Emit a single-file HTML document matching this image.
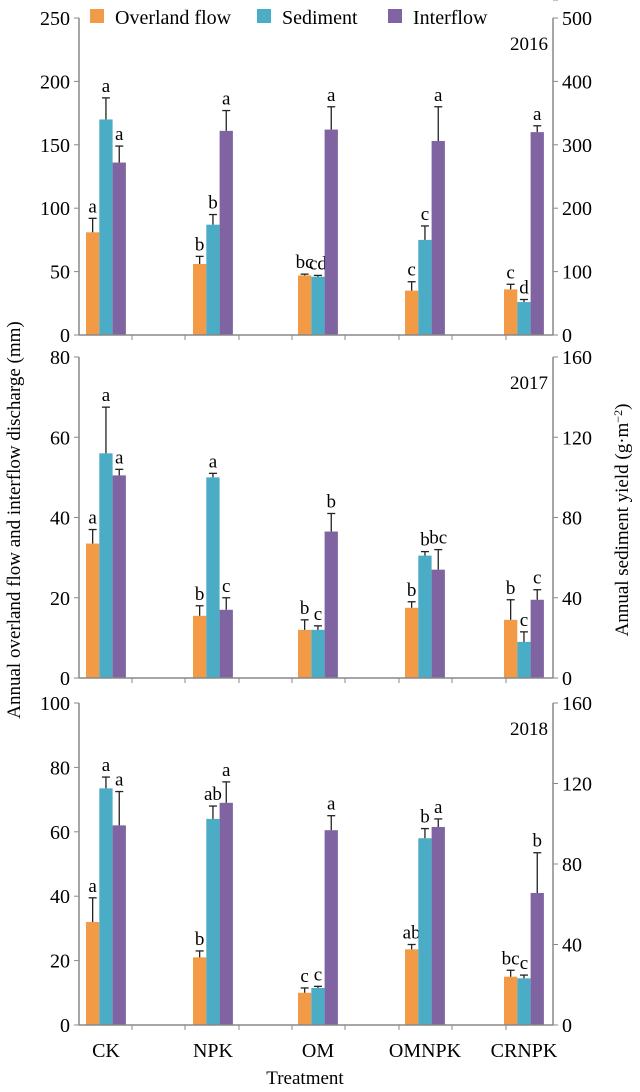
<!DOCTYPE html><html><head><style>body{margin:0;background:#fff}svg{display:block}svg text{font-family:"Liberation Serif","Times New Roman","DejaVu Serif",serif !important}</style></head><body>
<svg id="s" width="640" height="1092" xmlns="http://www.w3.org/2000/svg"></svg>
<script>
const s=document.getElementById('s');let h='';
const F='style="font-family:&quot;Liberation Serif&quot;,&quot;Times New Roman&quot;,&quot;DejaVu Serif&quot;,serif"';
const L=79,R=553,C=['#f39a47','#4bacc6','#8064a2'];
const starts=[86,193,298,405,504],bw=13.3;
const P=[
{top:18,bot:335,max:250,lt:[0,50,100,150,200,250],rt:[0,100,200,300,400,500],yr:'2016',
d:[[[81,92,'a'],[170,187,'a'],[136,149,'a']],[[56,62,'b'],[87,95,'b'],[161,177,'a']],[[47,48,'bc'],[46,47,'cd'],[162,180,'a']],[[35,42,'c'],[75,86,'c'],[153,180,'a']],[[36,40,'c'],[26,28,'d'],[160,165,'a']]]},
{top:357,bot:678,max:80,lt:[0,20,40,60,80],rt:[0,40,80,120,160],yr:'2017',
d:[[[33.5,37,'a'],[56,67.5,'a'],[50.5,52,'a']],[[15.5,18,'b'],[50,51,'a'],[17,20,'c']],[[12,14.5,'b'],[12,13,'c'],[36.5,41,'b']],[[17.5,19,'b'],[30.5,31.5,'b'],[27,32,'bc']],[[14.5,19.5,'b'],[9,11.5,'c'],[19.5,22,'c']]]},
{top:703,bot:1025,max:100,lt:[0,20,40,60,80,100],rt:[0,40,80,120,160],yr:'2018',
d:[[[32,39.5,'a'],[73.5,77,'a'],[62,72.5,'a']],[[21,23,'b'],[64,68,'ab'],[69,75.5,'a']],[[10,11.5,'c'],[11.5,12,'c'],[60.5,65,'a']],[[23.5,25,'ab'],[58,61,'b'],[61.5,64,'a']],[[15,17,'bc'],[14.5,15.5,'c'],[41,53.5,'b']]]}];
P.forEach(p=>{const y=v=>p.bot-(v/p.max)*(p.bot-p.top);
p.d.forEach((g,i)=>g.forEach((b,j)=>{const x=starts[i]+j*bw;
h+=`<rect x="${x}" y="${y(b[0])}" width="${bw}" height="${p.bot-y(b[0])}" fill="${C[j]}"/>`;
const cx=x+bw/2;h+=`<line x1="${cx}" y1="${y(b[0])}" x2="${cx}" y2="${y(b[1])}" stroke="#222" stroke-width="1.3"/><line x1="${cx-4}" y1="${y(b[1])}" x2="${cx+4}" y2="${y(b[1])}" stroke="#222" stroke-width="1.3"/>`;
h+=`<text ${F} x="${cx}" y="${y(b[1])-6}" font-size="19" text-anchor="middle">${b[2]}</text>`;}));
h+=`<line x1="${L}" y1="${p.top}" x2="${L}" y2="${p.bot}" stroke="#888" stroke-width="1.5"/><line x1="${R}" y1="${p.top}" x2="${R}" y2="${p.bot}" stroke="#888" stroke-width="1.5"/><line x1="${L}" y1="${p.bot}" x2="${R}" y2="${p.bot}" stroke="#888" stroke-width="1.5"/>`;
p.lt.forEach((v,k)=>{const yy=y(v);h+=`<line x1="${L-5}" y1="${yy}" x2="${L}" y2="${yy}" stroke="#888"/><text ${F} x="${L-9}" y="${yy+7}" font-size="20" text-anchor="end">${v}</text>`;
const yr=y(p.rt[k]*p.max/p.rt[p.rt.length-1]);h+=`<line x1="${R}" y1="${yr}" x2="${R+5}" y2="${yr}" stroke="#888"/><text ${F} x="${R+9}" y="${yr+7}" font-size="20">${p.rt[k]}</text>`;});
[132,185,239,292,345,399,452,506].forEach(x=>h+=`<line x1="${x}" y1="${p.bot}" x2="${x}" y2="${p.bot+5}" stroke="#888"/>`);
h+=`<text ${F} x="548" y="${p.top+32}" font-size="19" text-anchor="end">${p.yr}</text>`;});
['CK','NPK','OM','OMNPK','CRNPK'].forEach((t,i)=>h+=`<text ${F} x="${starts[i]+20}" y="1057" font-size="20" text-anchor="middle">${t}</text>`);
h+=`<text ${F} x="305" y="1084" font-size="19" text-anchor="middle">Treatment</text>`;
h+=`<text ${F} transform="translate(20,520) rotate(-90)" font-size="19" text-anchor="middle">Annual overland flow and interflow discharge (mm)</text>`;
h+=`<text ${F} transform="translate(628,520) rotate(-90)" font-size="19" text-anchor="middle">Annual sediment yield (g·m<tspan dy="-6" font-size="12">−2</tspan><tspan dy="6">)</tspan></text>`;
[[90,'Overland flow'],[257,'Sediment'],[388,'Interflow']].forEach((l,i)=>h+=`<rect x="${l[0]}" y="9" width="14" height="14" fill="${C[i]}"/><text ${F} x="${l[0]+25}" y="24" font-size="20">${l[1]}</text>`);
s.innerHTML=h;
</script></body></html>
